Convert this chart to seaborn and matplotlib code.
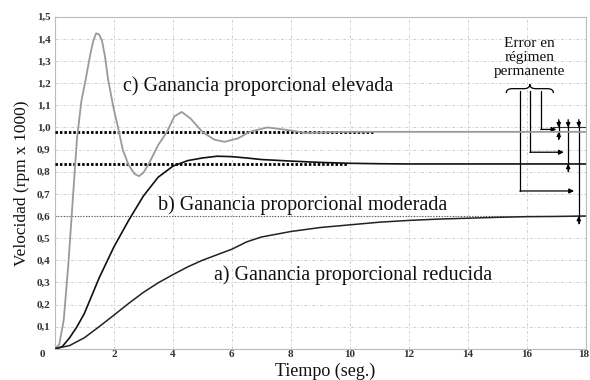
import numpy as np
import pandas as pd
import seaborn as sns
import matplotlib.pyplot as plt
from matplotlib.path import Path
from matplotlib.patches import PathPatch
import matplotlib.transforms as mtransforms

# curve values (time in s, speed in rpm x 1000)
t_c = [0, 0.15, 0.3, 0.45, 0.6, 0.75, 0.9, 1.05, 1.2, 1.3, 1.4, 1.5, 1.6, 1.7, 1.8, 1.9,
       2.0, 2.14, 2.3, 2.5, 2.7, 2.85, 3.0, 3.2, 3.5, 3.8, 4.05, 4.3, 4.6, 5.0, 5.4,
       5.75, 6.2, 6.6, 7.2, 7.8, 8.5, 9.2, 10.0, 12.0, 14.0, 16.0, 18.0]
v_c = [0, 0.02, 0.13, 0.37, 0.66, 0.95, 1.12, 1.22, 1.33, 1.39, 1.425, 1.42, 1.39, 1.32,
       1.22, 1.15, 1.08, 1.0, 0.9, 0.83, 0.79, 0.78, 0.795, 0.84, 0.92, 0.98, 1.05, 1.07,
       1.04, 0.98, 0.945, 0.935, 0.95, 0.98, 1.0, 0.99, 0.975, 0.978, 0.98, 0.98, 0.98,
       0.98, 0.98]

t_b = [0, 0.25, 0.5, 0.75, 1.0, 1.25, 1.5, 2.0, 2.5, 3.0, 3.5, 4.0, 4.5, 5.0, 5.5, 6.0,
       6.5, 7.0, 8.0, 9.0, 10.0, 11.0, 12.0, 14.0, 16.0, 18.0]
v_b = [0, 0.01, 0.05, 0.1, 0.16, 0.24, 0.32, 0.46, 0.58, 0.69, 0.775, 0.825, 0.85, 0.862,
       0.87, 0.868, 0.862, 0.855, 0.848, 0.842, 0.838, 0.836, 0.835, 0.835, 0.835, 0.835]

t_a = [0, 0.5, 1.0, 1.5, 2.0, 2.5, 3.0, 3.5, 4.0, 4.5, 5.0, 5.5, 6.0, 6.5, 7.0, 8.0, 9.0,
       10.0, 11.0, 12.0, 13.0, 14.0, 15.0, 16.0, 17.0, 18.0]
v_a = [0, 0.015, 0.05, 0.1, 0.152, 0.205, 0.255, 0.298, 0.335, 0.37, 0.40, 0.425, 0.45,
       0.483, 0.505, 0.53, 0.548, 0.56, 0.572, 0.58, 0.586, 0.59, 0.594, 0.597, 0.598, 0.6]

# steady-state levels and where the dotted guides stop
ss_levels = [0.98, 0.835, 0.6]
ss_ends = [10.8, 9.9, 18.0]
reference = 1.0

labels = ["c) Ganancia proporcional elevada",
          "b) Ganancia proporcional moderada",
          "a) Ganancia proporcional reducida"]
label_pos = [(2.3, 1.185), (3.5, 0.65), (5.4, 0.335)]

x_ticks = list(range(0, 19, 2))
y_ticks = [round(0.1 * i, 1) for i in range(16)]

sns.set_style("white")
plt.rcParams['font.family'] = ['Liberation Serif', 'DejaVu Serif']

fig = plt.figure(figsize=(5.9, 3.8), dpi=100)
ax = fig.add_axes([0.093, 0.082, 0.9, 0.874])

df_c = pd.DataFrame({"t": t_c, "v": v_c})
df_b = pd.DataFrame({"t": t_b, "v": v_b})
df_a = pd.DataFrame({"t": t_a, "v": v_a})

# dotted guides
ax.hlines(ss_levels[0], 0, ss_ends[0], colors="black", lw=2.0,
          linestyles=(0, (0.9, 0.7)), zorder=3)
ax.hlines(ss_levels[1], 0, ss_ends[1], colors="black", lw=2.0,
          linestyles=(0, (0.9, 0.7)), zorder=3)
ax.hlines(ss_levels[2], 0, ss_ends[2], colors="#555555", lw=0.8,
          linestyles=(0, (1, 1.5)), zorder=2)

sns.lineplot(data=df_c, x="t", y="v", ax=ax, color="#9a9a9a", lw=1.3, zorder=4)
sns.lineplot(data=df_b, x="t", y="v", ax=ax, color="#111111", lw=1.2, zorder=4)
sns.lineplot(data=df_a, x="t", y="v", ax=ax, color="#222222", lw=1.1, zorder=4)

for txt, (x, y) in zip(labels, label_pos):
    ax.text(x, y, txt, fontsize=14.5, ha="left", va="center", color="#111111")

# steady-state error annotation
ax.text(16.1, 1.318, "Error en\nrégimen\npermanente", fontsize=11, ha="center",
        va="center", linespacing=1.1, color="#111111")
verts = [(15.3, 1.155), (15.3, 1.175), (15.5, 1.175), (15.9, 1.175), (16.1, 1.175),
         (16.1, 1.195), (16.1, 1.175), (16.3, 1.175), (16.7, 1.175), (16.9, 1.175),
         (16.9, 1.155)]
codes = [Path.MOVETO, Path.CURVE3, Path.CURVE3, Path.LINETO, Path.CURVE3, Path.CURVE3,
         Path.CURVE3, Path.CURVE3, Path.LINETO, Path.CURVE3, Path.CURVE3]
ax.add_patch(PathPatch(Path(verts, codes), fill=False, lw=0.9, color="black"))

leader_x = [16.47, 16.1, 15.76]
leader_y = [0.991, 0.888, 0.713]
leader_end = [17.0, 17.25, 17.6]
for lx, ly, le in zip(leader_x, leader_y, leader_end):
    ax.plot([lx, lx], [1.165, ly], color="black", lw=0.9)
    ax.annotate("", xy=(le, ly), xytext=(lx, ly),
                arrowprops=dict(arrowstyle="-|>", lw=0.9, color="black",
                                mutation_scale=7, shrinkA=0, shrinkB=0))

err_x = [17.08, 17.4, 17.76]
ax.plot([16.9, 18], [reference, reference], color="#333333", lw=0.8)
for ex, lvl in zip(err_x, ss_levels):
    ax.plot([ex, ex], [reference + 0.03, lvl - 0.03], color="black", lw=0.9)
    ax.annotate("", xy=(ex, reference), xytext=(ex, reference + 0.035),
                arrowprops=dict(arrowstyle="-|>", lw=0.9, color="black",
                                mutation_scale=6, shrinkA=0, shrinkB=0))
    ax.annotate("", xy=(ex, lvl), xytext=(ex, lvl - 0.035),
                arrowprops=dict(arrowstyle="-|>", lw=0.9, color="black",
                                mutation_scale=6, shrinkA=0, shrinkB=0))

ax.set_xlim(0, 18)
ax.set_ylim(0, 1.5)
ax.set_xticks(x_ticks)
ax.set_xticklabels([str(x) for x in x_ticks])
ax.set_yticks(y_ticks)
ax.set_yticklabels([""] + [f"{y:.1f}".replace(".", ",") for y in y_ticks[1:]])
ax.tick_params(axis="both", length=0, labelsize=8, colors="#333333")
ax.tick_params(axis="x", pad=1)
ax.tick_params(axis="y", pad=3)
for lab in ax.get_xticklabels() + ax.get_yticklabels():
    lab.set_fontweight("bold")
xlabs = ax.get_xticklabels()
xlabs[0].set_transform(xlabs[0].get_transform() +
                       mtransforms.ScaledTranslation(-12 / 100, 0, fig.dpi_scale_trans))
xlabs[-1].set_horizontalalignment("right")
xlabs[-1].set_transform(xlabs[-1].get_transform() +
                        mtransforms.ScaledTranslation(3 / 100, 0, fig.dpi_scale_trans))

ax.grid(True, color="#cfcfcf", lw=0.7, linestyle=(0, (3, 2, 1, 2)))
for s in ax.spines.values():
    s.set_color("#bbbbbb")
    s.set_linewidth(0.8)

ax.set_xlabel("")
fig.text(325 / 590, 0.5 / 380, "Tiempo (seg.)", fontsize=13, ha="center", va="bottom",
         color="#111111")
ax.set_ylabel("Velocidad (rpm x 1000)", fontsize=12.5, labelpad=5, color="#111111")

fig.savefig("out.png", dpi=100)
